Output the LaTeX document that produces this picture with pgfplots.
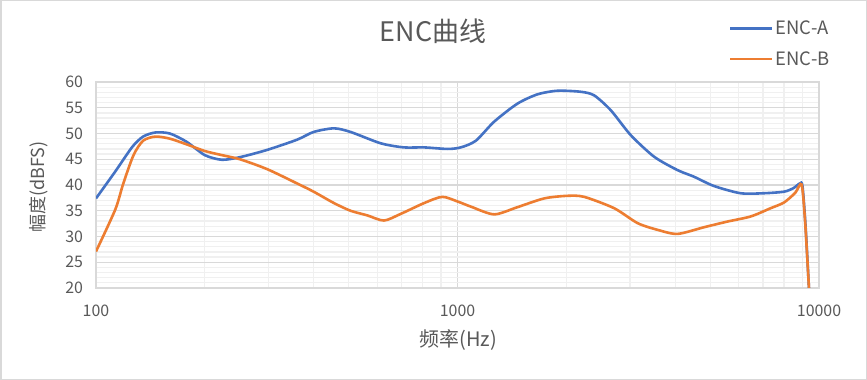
\documentclass[border=0pt]{standalone}
\usepackage{pgfplots}
\pgfplotsset{compat=1.18}
\usepackage{fontspec}
\setmainfont{Noto Sans CJK SC}
\definecolor{encA}{HTML}{4472C4}
\definecolor{encB}{HTML}{ED7D31}
\definecolor{txt}{HTML}{595959}
\definecolor{majgrid}{HTML}{D9D9D9}
\definecolor{mingrid}{HTML}{F0F0F0}
\definecolor{frame}{HTML}{D9D9D9}
\begin{document}
\begin{tikzpicture}
\useasboundingbox (0bp,0bp) rectangle (867bp,380bp);
\fill[white] (0bp,0bp) rectangle (867bp,380bp);
\draw[frame, line width=1.5bp] (0.75bp,0.75bp) rectangle (866.25bp,379.25bp);
\begin{axis}[
  at={(96bp,92bp)}, anchor=south west,
  scale only axis, width=723bp, height=206bp,
  xmode=log, xmin=100, xmax=10000,
  ymin=20, ymax=60,
  xtick={100,1000,10000}, xticklabels={100,1000,10000},
  ytick={20,25,...,60},
  minor y tick num=4,
  major tick length=0pt, minor tick length=0pt,
  xmajorgrids, xminorgrids, ymajorgrids, yminorgrids,
  major grid style={majgrid, line width=1.3bp},
  minor grid style={mingrid, line width=1.2bp},
  axis line style={draw=majgrid, line width=1.3bp},
  tick label style={txt, font=\fontsize{16}{19}\selectfont},
  /pgf/number format/assume math mode=true,
  yticklabel style={xshift=-9.5bp},
  xticklabel style={yshift=-13bp},
  title={ENC曲线},
  title style={txt, font=\fontsize{27}{32}\selectfont, at={(axis description cs:0.466,1.218)}, anchor=center},
  xlabel={频率(Hz)},
  xlabel style={txt, font=\fontsize{20}{24}\selectfont, at={(axis description cs:0.501,-0.252)}, anchor=center},
  ylabel={幅度(dBFS)},
  ylabel style={txt, font=\fontsize{18}{22}\selectfont, at={(axis description cs:-0.079,0.49)}, anchor=center},
  legend style={draw=none, fill=none, at={(axis description cs:0.875,1.306)}, anchor=north west,
    font=\fontsize{18.5}{22}\selectfont, text=txt, row sep=11bp, inner sep=0pt},
  legend cell align=left,
  legend image code/.code={\draw[#1, line width=2.8bp] (0bp,0bp) -- (42bp,0bp);},
]
\addplot[encA, line width=2.6bp, smooth, tension=0.45] coordinates {
(100,37.4) (113,42.6) (126,47.4) (135,49.4) (146,50.2) (160,50.0) (178,48.4)
(200,45.8) (223,44.9) (250,45.4) (297,46.8) (360,48.8) (400,50.3) (455,51.0)
(506,50.3) (613,48.1) (711,47.3) (809,47.3) (938,47.0) (1021,47.3) (1124,48.6)
(1263,52.3) (1465,55.8) (1664,57.6) (1890,58.3) (2193,58.1) (2388,57.4)
(2656,54.5) (3013,49.7) (3497,45.5) (4059,42.9) (4511,41.6) (5124,39.8)
(6071,38.4) (7042,38.4) (8000,38.7) (8500,39.4) (8850,40.3) (9000,39.8) (9180,32) (9380,20) (9550,11)
};
\addlegendentry{ENC-A}
\addplot[encB, line width=2.6bp, smooth, tension=0.45] coordinates {
(100,27.1) (113,35.2) (119,40.3) (127,45.8) (135,48.6) (146,49.4) (160,49.0)
(178,47.9) (200,46.6) (223,45.8) (250,45.0) (297,43.1) (360,40.3) (400,38.7)
(455,36.5) (506,35.0) (563,34.1) (626,33.1) (697,34.4) (809,36.5) (907,37.7)
(1000,36.8) (1089,35.8) (1263,34.3) (1465,35.7) (1738,37.4) (2015,37.9)
(2240,37.7) (2711,35.5) (3148,32.6) (3573,31.3) (4059,30.5) (4808,31.8)
(5580,32.9) (6478,33.9) (7352,35.5) (8000,36.6) (8600,38.5) (8950,40.1) (9150,33) (9380,20) (9550,11)
};
\addlegendentry{ENC-B}
\end{axis}
\end{tikzpicture}
\end{document}
